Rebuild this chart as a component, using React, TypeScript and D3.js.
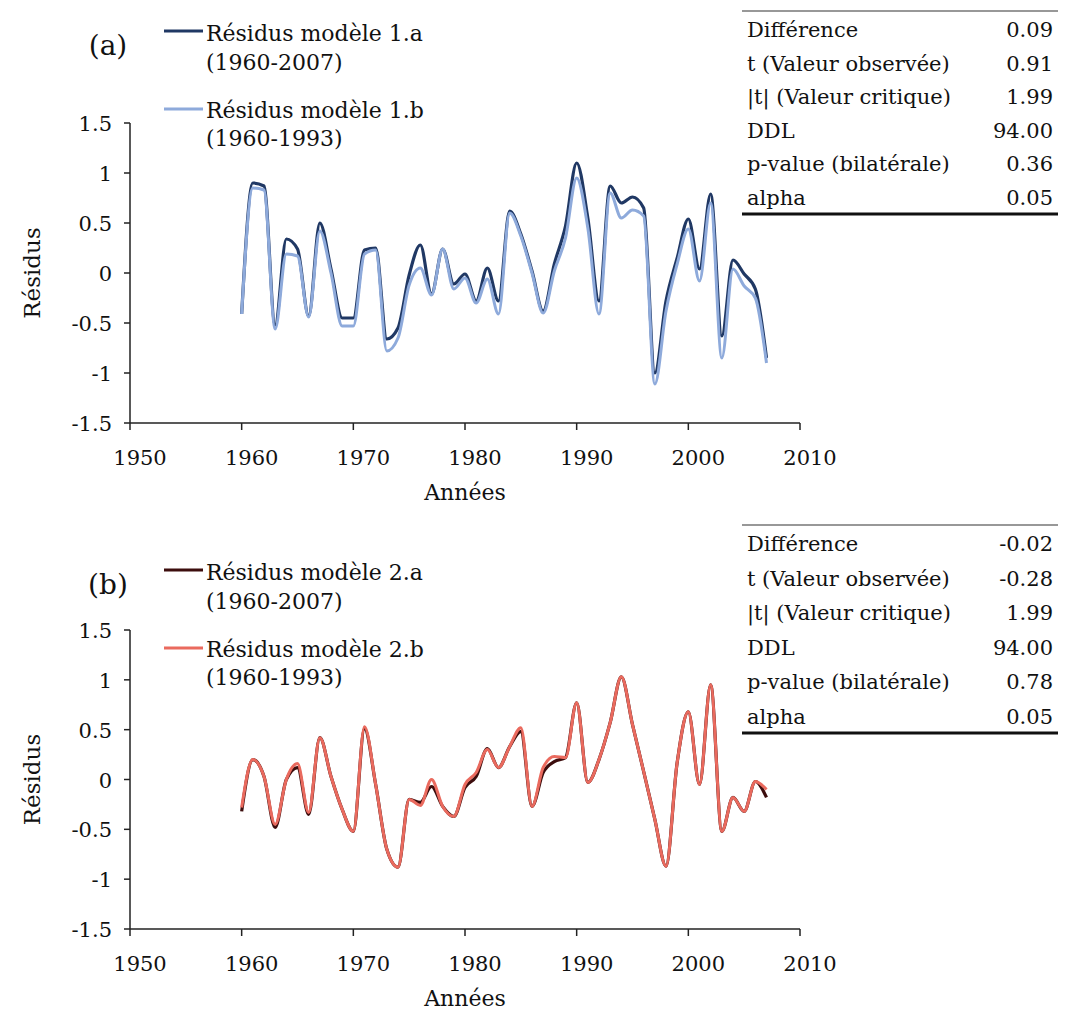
import React from "react";
import * as d3 from "d3";

const years = [1960,1961,1962,1963,1964,1965,1966,1967,1968,1969,1970,1971,1972,1973,1974,1975,1976,1977,1978,1979,1980,1981,1982,1983,1984,1985,1986,1987,1988,1989,1990,1991,1992,1993,1994,1995,1996,1997,1998,1999,2000,2001,2002,2003,2004,2005,2006,2007];

const res1a = [-0.41,0.90,0.87,-0.52,0.34,0.24,-0.43,0.50,0.04,-0.45,-0.45,0.23,0.25,-0.66,-0.55,-0.02,0.28,-0.21,0.24,-0.11,-0.01,-0.28,0.05,-0.28,0.62,0.39,0.02,-0.38,0.09,0.47,1.10,0.55,-0.28,0.87,0.70,0.76,0.65,-1.00,-0.28,0.15,0.54,0.04,0.79,-0.63,0.13,-0.01,-0.16,-0.85];
const res1b = [-0.41,0.85,0.83,-0.56,0.19,0.17,-0.44,0.42,0.00,-0.53,-0.53,0.19,0.23,-0.78,-0.65,-0.12,0.05,-0.22,0.24,-0.16,-0.05,-0.30,-0.06,-0.41,0.60,0.37,0.00,-0.40,0.02,0.35,0.95,0.45,-0.41,0.80,0.55,0.63,0.57,-1.11,-0.38,0.09,0.44,-0.08,0.70,-0.85,0.04,-0.13,-0.25,-0.90];
const res2a = [-0.32,0.20,0.03,-0.48,0.00,0.12,-0.35,0.42,0.03,-0.30,-0.52,0.51,-0.05,-0.70,-0.88,-0.20,-0.23,-0.07,-0.27,-0.37,-0.08,0.03,0.31,0.12,0.33,0.48,-0.27,0.07,0.18,0.22,0.77,-0.03,0.20,0.57,1.03,0.55,0.08,-0.40,-0.87,0.17,0.68,-0.05,0.95,-0.52,-0.18,-0.32,-0.02,-0.18];
const res2b = [-0.28,0.20,0.03,-0.45,0.00,0.16,-0.33,0.42,0.03,-0.30,-0.52,0.53,-0.05,-0.70,-0.88,-0.20,-0.26,0.00,-0.27,-0.37,-0.05,0.07,0.30,0.12,0.33,0.52,-0.27,0.12,0.23,0.22,0.77,-0.03,0.20,0.57,1.03,0.55,0.08,-0.40,-0.87,0.17,0.68,-0.05,0.95,-0.52,-0.18,-0.32,-0.02,-0.10];

const xTicks = [1950,1960,1970,1980,1990,2000,2010];
const yTicks = [-1.5,-1,-0.5,0,0.5,1,1.5];

const statLabels = ["Différence","t (Valeur observée)","|t| (Valeur critique)","DDL","p-value (bilatérale)","alpha"];
const stats1 = ["0.09","0.91","1.99","94.00","0.36","0.05"];
const stats2 = ["-0.02","-0.28","1.99","94.00","0.78","0.05"];

const FONT = "'DejaVu Serif', 'Liberation Serif', serif";

type PanelProps = {
  top: number;
  bottom: number;
  letter: string;
  labelA: string; labelB: string;
  seriesA: number[]; seriesB: number[];
  colorA: string; colorB: string;
  stats: string[];
  tableTop: number; tableStep: number; tableFirst: number;
  yOff: number;
};

function Panel(p: PanelProps) {
  const x = d3.scaleLinear().domain([1950, 2010]).range([130, 800]);
  const y = d3.scaleLinear().domain([-1.5, 1.5]).range([p.bottom, p.top]);
  const line = d3.line<number>()
    .x((_, i) => x(years[i]))
    .y((d) => y(d))
    .curve(d3.curveMonotoneX);
  const o = p.yOff;
  const tableBottom = p.tableFirst + p.tableStep * 5 + 9;
  const ts = { fontFamily: FONT, fill: "#111" } as const;
  return (
    <g>
      <text x={108} y={o + 55} fontSize={28} style={ts} textAnchor="middle">{p.letter}</text>
      <line x1={164} x2={203} y1={o + 31} y2={o + 31} stroke={p.colorA} strokeWidth={3} />
      <text x={206} y={o + 41} fontSize={22} style={ts}>{p.labelA}</text>
      <text x={206} y={o + 70} fontSize={22} style={ts}>(1960-2007)</text>
      <line x1={164} x2={203} y1={o + 109} y2={o + 109} stroke={p.colorB} strokeWidth={3} />
      <text x={206} y={o + 118} fontSize={22} style={ts}>{p.labelB}</text>
      <text x={206} y={o + 146} fontSize={22} style={ts}>(1960-1993)</text>

      <line x1={x(1950)} x2={x(1950)} y1={y(1.5)} y2={y(-1.5)} stroke="#222" strokeWidth={1.5} />
      <line x1={x(1950)} x2={x(2010)} y1={y(-1.5)} y2={y(-1.5)} stroke="#222" strokeWidth={1.5} />
      {yTicks.map((t) => (
        <g key={"y" + t}>
          <line x1={x(1950) - 6} x2={x(1950)} y1={y(t)} y2={y(t)} stroke="#222" strokeWidth={1.5} />
          <text x={112} y={y(t) + 8} fontSize={21} style={ts} textAnchor="end">{String(t)}</text>
        </g>
      ))}
      {xTicks.map((t) => (
        <g key={"x" + t}>
          <line x1={x(t)} x2={x(t)} y1={y(-1.5)} y2={y(-1.5) + 7} stroke="#222" strokeWidth={1.5} />
          <text x={x(t) + 10} y={y(-1.5) + 42} fontSize={21} style={ts} textAnchor="middle">{String(t)}</text>
        </g>
      ))}
      <text x={465} y={y(-1.5) + 77} fontSize={22} style={ts} textAnchor="middle">Années</text>
      <text transform={`translate(40, ${y(0)}) rotate(-90)`} fontSize={23} style={ts} textAnchor="middle">Résidus</text>

      <path d={line(p.seriesA) || ""} fill="none" stroke={p.colorA} strokeWidth={3.2} />
      <path d={line(p.seriesB) || ""} fill="none" stroke={p.colorB} strokeWidth={3} />

      <line x1={742} x2={1058} y1={p.tableTop} y2={p.tableTop} stroke="#333" strokeWidth={1.2} />
      {statLabels.map((l, i) => (
        <g key={l}>
          <text x={747} y={p.tableFirst + i * p.tableStep} fontSize={21} style={ts}>{l}</text>
          <text x={1053} y={p.tableFirst + i * p.tableStep} fontSize={21} style={ts} textAnchor="end">{p.stats[i]}</text>
        </g>
      ))}
      <line x1={742} x2={1058} y1={tableBottom} y2={tableBottom} stroke="#111" strokeWidth={3} />
    </g>
  );
}

export default function App() {
  return (
    <svg width={1070} height={1010} style={{ position: "absolute", left: 0, top: 0, background: "#fff" }}>
      <rect x={0} y={0} width={1070} height={1010} fill="#fff" />
      <Panel top={123} bottom={423} letter="(a)" labelA="Résidus modèle 1.a" labelB="Résidus modèle 1.b"
        seriesA={res1a} seriesB={res1b} colorA="#203864" colorB="#8eaadb" stats={stats1}
        tableTop={11} tableFirst={37} tableStep={33.6} yOff={0} />
      <Panel top={630} bottom={929} letter="(b)" labelA="Résidus modèle 2.a" labelB="Résidus modèle 2.b"
        seriesA={res2a} seriesB={res2b} colorA="#3c0d0d" colorB="#ea6a5e" stats={stats2}
        tableTop={525} tableFirst={551} tableStep={34.6} yOff={539} />
    </svg>
  );
}
